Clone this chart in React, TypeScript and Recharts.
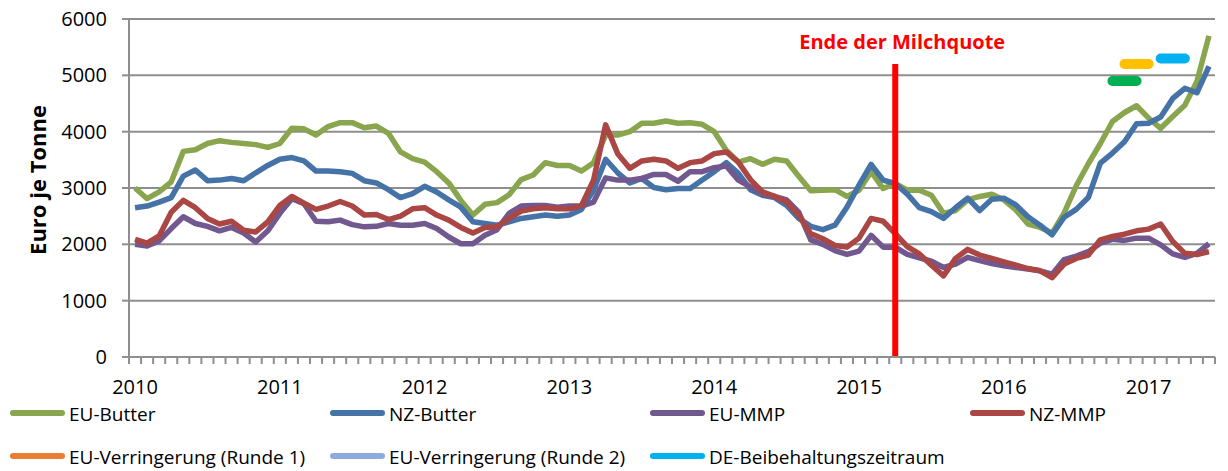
import { LineChart, Line, XAxis, YAxis, CartesianGrid, ReferenceLine, Legend } from "recharts"

// monthly prices, Jan 2010 .. Jun 2017 (Euro je Tonne)
const yearLabels = ["2010", "2011", "2012", "2013", "2014", "2015", "2016", "2017"]

const euButter = [
  3000, 2810, 2930, 3110, 3650, 3680, 3790, 3840, 3810, 3790, 3770, 3720,
  3790, 4060, 4050, 3940, 4090, 4160, 4160, 4070, 4100, 3970, 3640, 3520,
  3460, 3290, 3090, 2780, 2520, 2710, 2740, 2880, 3150, 3230, 3450, 3400,
  3400, 3300, 3450, 3940, 3940, 4000, 4150, 4150, 4190, 4150, 4160, 4130,
  4000, 3670, 3460, 3520, 3420, 3510, 3480, 3210, 2950, 2960, 2970, 2850,
  2960, 3290, 2990, 3080, 2960, 2960, 2870, 2550, 2600, 2790, 2850, 2890,
  2790, 2610, 2360, 2300, 2200, 2560, 3040, 3430, 3790, 4180, 4340, 4460,
  4240, 4060, 4270, 4470, 4890, 5700,
]

const nzButter = [
  2650, 2680, 2750, 2830, 3210, 3320, 3130, 3140, 3170, 3130, 3270, 3400,
  3510, 3540, 3480, 3300, 3300, 3290, 3260, 3130, 3090, 2970, 2830, 2900,
  3030, 2930, 2790, 2660, 2400, 2370, 2340, 2400, 2460, 2490, 2520, 2500,
  2520, 2620, 2960, 3510, 3270, 3090, 3170, 3010, 2970, 2990, 2990, 3140,
  3290, 3450, 3260, 2970, 2870, 2830, 2690, 2460, 2320, 2260, 2340, 2660,
  3050, 3420, 3140, 3080, 2890, 2650, 2580, 2460, 2650, 2820, 2600, 2800,
  2820, 2700, 2490, 2340, 2170, 2480, 2620, 2830, 3440, 3620, 3820, 4140,
  4150, 4260, 4590, 4770, 4690, 5160,
]

const euMmp = [
  2000, 1970, 2060, 2280, 2490, 2370, 2320, 2240, 2300, 2200, 2040, 2240,
  2550, 2810, 2720, 2410, 2400, 2430, 2350, 2310, 2320, 2370, 2340, 2340,
  2370, 2280, 2130, 2010, 2010, 2160, 2260, 2550, 2680, 2690, 2690, 2660,
  2680, 2680, 2750, 3180, 3140, 3140, 3170, 3240, 3240, 3120, 3290, 3290,
  3360, 3390, 3140, 3020, 2890, 2850, 2790, 2570, 2080, 2000, 1890, 1820,
  1880, 2160, 1950, 1950, 1820, 1760, 1700, 1590, 1650, 1770, 1710, 1660,
  1620, 1590, 1560, 1530, 1470, 1730, 1790, 1870, 2020, 2090, 2070, 2110,
  2110, 1990, 1830, 1770, 1840, 2010,
]

const nzMmp = [
  2090, 2020, 2150, 2570, 2780, 2650, 2460, 2360, 2410, 2250, 2220, 2400,
  2690, 2850, 2730, 2620, 2680, 2760, 2680, 2520, 2530, 2440, 2500, 2630,
  2650, 2520, 2430, 2300, 2200, 2300, 2310, 2460, 2590, 2630, 2650, 2630,
  2630, 2690, 3140, 4120, 3610, 3350, 3480, 3510, 3480, 3350, 3450, 3480,
  3610, 3640, 3460, 3150, 2930, 2850, 2750, 2520, 2190, 2100, 1980, 1950,
  2110, 2460, 2410, 2190, 1960, 1830, 1630, 1440, 1750, 1910, 1810, 1750,
  1690, 1630, 1570, 1530, 1410, 1650, 1750, 1810, 2080, 2140, 2180, 2240,
  2270, 2360, 2050, 1840, 1820, 1870,
]

// short period markers: [month index, value]
const cutRound1 = [[81, 4900], [83, 4900]]
const cutRound2 = [[82, 5200], [84, 5200]]
const deRetention = [[85, 5300], [87, 5300]]

const quotaEndMonth = 63 // April 2015
const quotaLineTop = 5200

const yTicks = [0, 1000, 2000, 3000, 4000, 5000, 6000]

const GREEN = "#89A54E"
const BLUE = "#4572A7"
const PURPLE = "#71588F"
const RED = "#AA4643"
const GRID = "#8E8E8E"

const WIDTH = 1228
const HEIGHT = 471
const Y_AXIS_W = 129
const RIGHT = 13
const PLOT_W = WIDTH - Y_AXIS_W - RIGHT
const N = euButter.length
const HALF_BAND = PLOT_W / N / 2

const rows = euButter.map((v, i) => ({
  i,
  euButter: v,
  nzButter: nzButter[i],
  euMmp: euMmp[i],
  nzMmp: nzMmp[i],
}))

const toRows = (pts: number[][]) => pts.map(([i, v]) => ({ i, v }))

const xTicks = Array.from({ length: N + 1 }, (_, k) => k - 0.5)

const legendItems = [
  { name: "EU-Butter", color: GREEN },
  { name: "NZ-Butter", color: BLUE },
  { name: "EU-MMP", color: PURPLE },
  { name: "NZ-MMP", color: RED },
  { name: "EU-Verringerung (Runde 1)", color: "#ED7D31" },
  { name: "EU-Verringerung (Runde 2)", color: "#8FAADC" },
  { name: "DE-Beibehaltungszeitraum", color: "#00B0F0" },
]

function YearTick(props: any) {
  const { x, y, payload } = props
  const idx = payload.value + 0.5
  if (idx % 12 !== 0 || idx >= N) return <g />
  return (
    <text x={x + HALF_BAND} y={y} dy="0.71em" textAnchor="middle" fontSize={20} fill="#000">
      {yearLabels[idx / 12]}
    </text>
  )
}

function LegendBox() {
  return (
    <svg width={WIDTH} height={76}>
      {legendItems.map((it, k) => {
        const col = k % 4
        const row = Math.floor(k / 4)
        const x = 13 + col * 320
        const y = 18 + row * 43
        return (
          <g key={it.name}>
            <line x1={x} x2={x + 49} y1={y} y2={y} stroke={it.color} strokeWidth={6} strokeLinecap="round" />
            <text x={x + 56} y={y + 8} fontSize={19} fill="#000">
              {it.name}
            </text>
          </g>
        )
      })}
    </svg>
  )
}

function QuotaLabel(props: any) {
  const { viewBox } = props
  return (
    <text
      x={viewBox.x + 7}
      y={viewBox.y - 15}
      textAnchor="middle"
      fill="#FF0000"
      fontWeight="bold"
      fontSize={20}
    >
      Ende der Milchquote
    </text>
  )
}

export default function App() {
  return (
    <div style={{ position: "absolute", left: 0, top: 0, background: "#fff" }}>
      <LineChart
        width={WIDTH}
        height={HEIGHT}
        data={rows}
        margin={{ top: 19, right: RIGHT, left: 0, bottom: 74 }}
        style={{ fontFamily: "'Open Sans', sans-serif" }}
      >
        <CartesianGrid vertical={false} stroke={GRID} strokeWidth={2} />
        <XAxis
          dataKey="i"
          type="number"
          domain={[-0.5, N - 0.5]}
          ticks={xTicks}
          interval={0}
          height={40}
          stroke={GRID}
          strokeWidth={2}
          tickSize={7}
          tickMargin={16}
          tick={<YearTick />}
        />
        <YAxis
          width={Y_AXIS_W}
          domain={[0, 6000]}
          ticks={yTicks}
          interval={0}
          stroke={GRID}
          strokeWidth={2}
          tickSize={7}
          tickMargin={15}
          tick={{ fontSize: 20, fill: "#000" }}
          label={{
            content: () => (
              <text
                x={37}
                y={180}
                transform="rotate(-90 37 180)"
                textAnchor="middle"
                dominantBaseline="central"
                fontWeight="bold"
                fontSize={22}
                fill="#000"
              >
                Euro je Tonne
              </text>
            ),
          }}
        />
        <Legend
          layout="horizontal"
          verticalAlign="middle"
          align="center"
          content={<LegendBox />}
          wrapperStyle={{ left: 0, top: 395, width: WIDTH, height: 76 }}
        />
        <Line dataKey="euButter" name="EU-Butter" stroke={GREEN} strokeWidth={5.5} dot={false} strokeLinejoin="round" isAnimationActive={false} />
        <Line dataKey="nzButter" name="NZ-Butter" stroke={BLUE} strokeWidth={5.5} dot={false} strokeLinejoin="round" isAnimationActive={false} />
        <Line dataKey="euMmp" name="EU-MMP" stroke={PURPLE} strokeWidth={5.5} dot={false} strokeLinejoin="round" isAnimationActive={false} />
        <Line dataKey="nzMmp" name="NZ-MMP" stroke={RED} strokeWidth={5.5} dot={false} strokeLinejoin="round" isAnimationActive={false} />
        <Line data={toRows(cutRound1)} dataKey="v" name="EU-Verringerung (Runde 1)" stroke="#00B050" strokeWidth={10} strokeLinecap="round" dot={false} isAnimationActive={false} />
        <Line data={toRows(cutRound2)} dataKey="v" name="EU-Verringerung (Runde 2)" stroke="#FFC000" strokeWidth={10} strokeLinecap="round" dot={false} isAnimationActive={false} />
        <Line data={toRows(deRetention)} dataKey="v" name="DE-Beibehaltungszeitraum" stroke="#00B0F0" strokeWidth={10} strokeLinecap="round" dot={false} isAnimationActive={false} />
        <ReferenceLine
          segment={[
            { x: quotaEndMonth, y: 0 },
            { x: quotaEndMonth, y: quotaLineTop },
          ]}
          stroke="#FF0000"
          strokeWidth={6}
          label={<QuotaLabel />}
        />
      </LineChart>
    </div>
  )
}
